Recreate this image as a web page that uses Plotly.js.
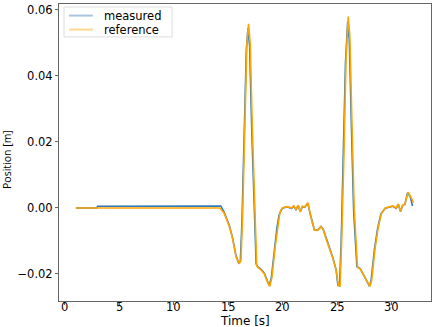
<!DOCTYPE html>
<html>
<head>
<meta charset="utf-8">
<script src="https://cdn.plot.ly/plotly-3.0.1.min.js"></script>
<style>
  body { margin: 0; background: #fff; }
  #myPlot { width: 436px; height: 327px; }
</style>
</head>
<body>
<div id="myPlot"></div>
<script>
const myPlot = document.getElementById('myPlot');

/**
 * Data
 */
const refTime = [1.0, 14.2, 14.6, 15.1, 15.4, 15.7, 16.0, 16.15, 16.3, 16.5, 16.7, 16.85, 17.0, 17.2, 17.4, 17.6,
  17.7, 18.0, 18.3, 18.5, 18.8, 19.0, 19.3, 19.5, 19.7, 19.85, 20.0, 20.4, 20.8, 21.0, 21.2, 21.4, 21.6, 21.8,
  22.0, 22.3, 22.5, 22.7, 22.9, 23.2, 23.5, 23.7, 24.0, 24.3, 24.6, 24.9, 25.1, 25.25, 25.4, 25.6, 25.8, 26.0,
  26.15, 26.35, 26.55, 26.85, 27.1, 27.4, 27.7, 28.0, 28.15, 28.45, 28.75, 29.05, 29.4, 29.8, 30.1, 30.4,
  30.6, 30.8, 31.0, 31.2, 31.5, 31.7, 32.0];
const refPos = [0.0, 0.0, -0.0015, -0.0057, -0.0095, -0.0148, -0.0168, -0.016, -0.003, 0.024, 0.050, 0.0558, 0.050, 0.024, 0.0, -0.0175,
  -0.018, -0.0188, -0.020, -0.0218, -0.0238, -0.021, -0.0117, -0.006, -0.002, -0.0005, 0.0001, 0.0004, 0.0, 0.0006, -0.0004, 0.0008, -0.0012, 0.0005,
  0.0003, 0.0016, -0.0016, -0.0045, -0.0067, -0.0068, -0.0057, -0.0065, -0.0097, -0.0123, -0.0153, -0.019, -0.0235, -0.0237, -0.010, 0.015, 0.045, 0.058,
  0.052, 0.025, 0.0, -0.018, -0.0185, -0.0203, -0.022, -0.0238, -0.022, -0.0127, -0.006, -0.0016, 0.0, 0.0004, 0.0006, 0.0,
  0.0012, -0.001, 0.0008, 0.0012, 0.0048, 0.0036, 0.0016];

const measTime = [1.0, 2.9, 3.0, 9.6, 9.7, 14.3, 14.6, 15.1, 15.4, 15.7, 15.95, 16.1, 16.25, 16.45, 16.65, 16.8, 16.95, 17.15, 17.35, 17.55,
  17.7, 18.0, 18.3, 18.5, 18.75, 18.95, 19.25, 19.45, 19.65, 19.85, 20.0, 20.4, 20.8, 21.0, 21.2, 21.4, 21.6, 21.8,
  22.0, 22.3, 22.5, 22.7, 22.9, 23.2, 23.5, 23.7, 24.0, 24.3, 24.6, 24.9, 25.05, 25.2, 25.35, 25.55, 25.75, 25.95,
  26.1, 26.3, 26.5, 26.8, 27.1, 27.4, 27.7, 27.95, 28.1, 28.4, 28.7, 29.0, 29.4, 29.8, 30.1, 30.4,
  30.6, 30.8, 31.0, 31.2, 31.45, 31.7, 31.9];
const measPos = [0.0, 0.0, 0.0005, 0.0005, 0.0006, 0.0006, -0.0012, -0.0055, -0.0093, -0.0145, -0.0167, -0.0162, -0.004, 0.022, 0.048, 0.0545, 0.049, 0.023, 0.0, -0.017,
  -0.0178, -0.0186, -0.0198, -0.0216, -0.0236, -0.021, -0.012, -0.0062, -0.0022, -0.0006, 0.0, 0.0003, -0.0001, 0.0005, -0.0005, 0.0007, -0.0011, 0.0004,
  0.0002, 0.0014, -0.0017, -0.0046, -0.0066, -0.0067, -0.0056, -0.0064, -0.0096, -0.0122, -0.0152, -0.0189, -0.0234, -0.0236, -0.011, 0.014, 0.044, 0.0565,
  0.051, 0.024, -0.001, -0.0178, -0.0184, -0.0202, -0.0219, -0.0237, -0.022, -0.0128, -0.0062, -0.0018, -0.0001, 0.0003, 0.0005, -0.0001,
  0.0011, -0.0011, 0.0007, 0.0011, 0.0046, 0.0034, 0.0006];

const xTicks = [0, 5, 10, 15, 20, 25, 30];
const yTicks = [-0.02, 0, 0.02, 0.04, 0.06];

const seriesNames = ['measured', 'reference'];
const seriesColors = ['#2f7ab8', '#ffa500'];
const legendColors = ['#a8c6e0', '#ffd890'];

const data = [
  { x: measTime, y: measPos, name: seriesNames[0], mode: 'lines', type: 'scatter',
    line: { color: seriesColors[0], width: 1.6 } },
  { x: refTime, y: refPos, name: seriesNames[1], mode: 'lines', type: 'scatter',
    line: { color: seriesColors[1], width: 1.6 } }
];

/**
 * Layout
 */
const tickFont = { family: 'DejaVu Sans', size: 11.5, color: '#000' };
const axisStyle = {
  showgrid: false,
  zeroline: false,
  showline: true,
  mirror: true,
  linecolor: '#666',
  linewidth: 1,
  ticks: 'outside',
  ticklen: 3,
  tickcolor: '#666',
  tickfont: tickFont
};

// hand-made legend, matplotlib style (short pale swatches)
const legendShapes = [
  { type: 'rect', xref: 'paper', yref: 'paper', x0: 0.0134, x1: 0.304, y0: 0.889, y1: 0.990,
    line: { color: '#dddddd', width: 1 }, fillcolor: 'rgba(255,255,255,0.8)' }
];
const annots = [];
seriesNames.forEach((name, i) => {
  const yy = i === 0 ? 0.961 : 0.914;
  legendShapes.push({ type: 'line', xref: 'paper', yref: 'paper', x0: 0.027, x1: 0.091, y0: yy, y1: yy,
    line: { color: legendColors[i], width: 2 } });
  annots.push({ xref: 'paper', yref: 'paper', x: 0.116, y: yy, xanchor: 'left', yanchor: 'middle',
    showarrow: false, text: name, font: { family: 'DejaVu Sans', size: 11.5, color: '#000' } });
});

// x tick labels sit tight under the axis, as in the original
xTicks.forEach(v => {
  annots.push({ xref: 'x', yref: 'paper', x: v, y: -0.021, xanchor: 'center', yanchor: 'middle',
    borderpad: 0, showarrow: false, text: String(v), font: tickFont });
});

// axis titles placed by hand
annots.push({ xref: 'paper', yref: 'paper', x: 0.5, y: -0.066, xanchor: 'center', yanchor: 'middle',
  borderpad: 0, showarrow: false, text: 'Time [s]', font: { family: 'DejaVu Sans', size: 12, color: '#000' } });
annots.push({ xref: 'paper', yref: 'paper', x: -0.14, y: 0.478, xanchor: 'center', yanchor: 'middle',
  textangle: -90, showarrow: false, text: 'Position [m]',
  font: { family: 'Open Sans', size: 10.5, color: '#000' } });

const layout = {
  width: 436,
  height: 327,
  margin: { l: 59, r: 5, t: 4, b: 26 },
  paper_bgcolor: '#fff',
  plot_bgcolor: '#fff',
  showlegend: false,
  shapes: legendShapes,
  annotations: annots,
  xaxis: Object.assign({}, axisStyle, {
    range: [-0.55, 33.6],
    tickvals: xTicks,
    showticklabels: false,
    automargin: false
  }),
  yaxis: Object.assign({}, axisStyle, {
    range: [-0.0282, 0.0618],
    tickvals: yTicks,
    tickformat: '.2f',
    automargin: false
  })
};

Plotly.newPlot(myPlot, data, layout, { staticPlot: true, displayModeBar: false });
</script>
</body>
</html>
